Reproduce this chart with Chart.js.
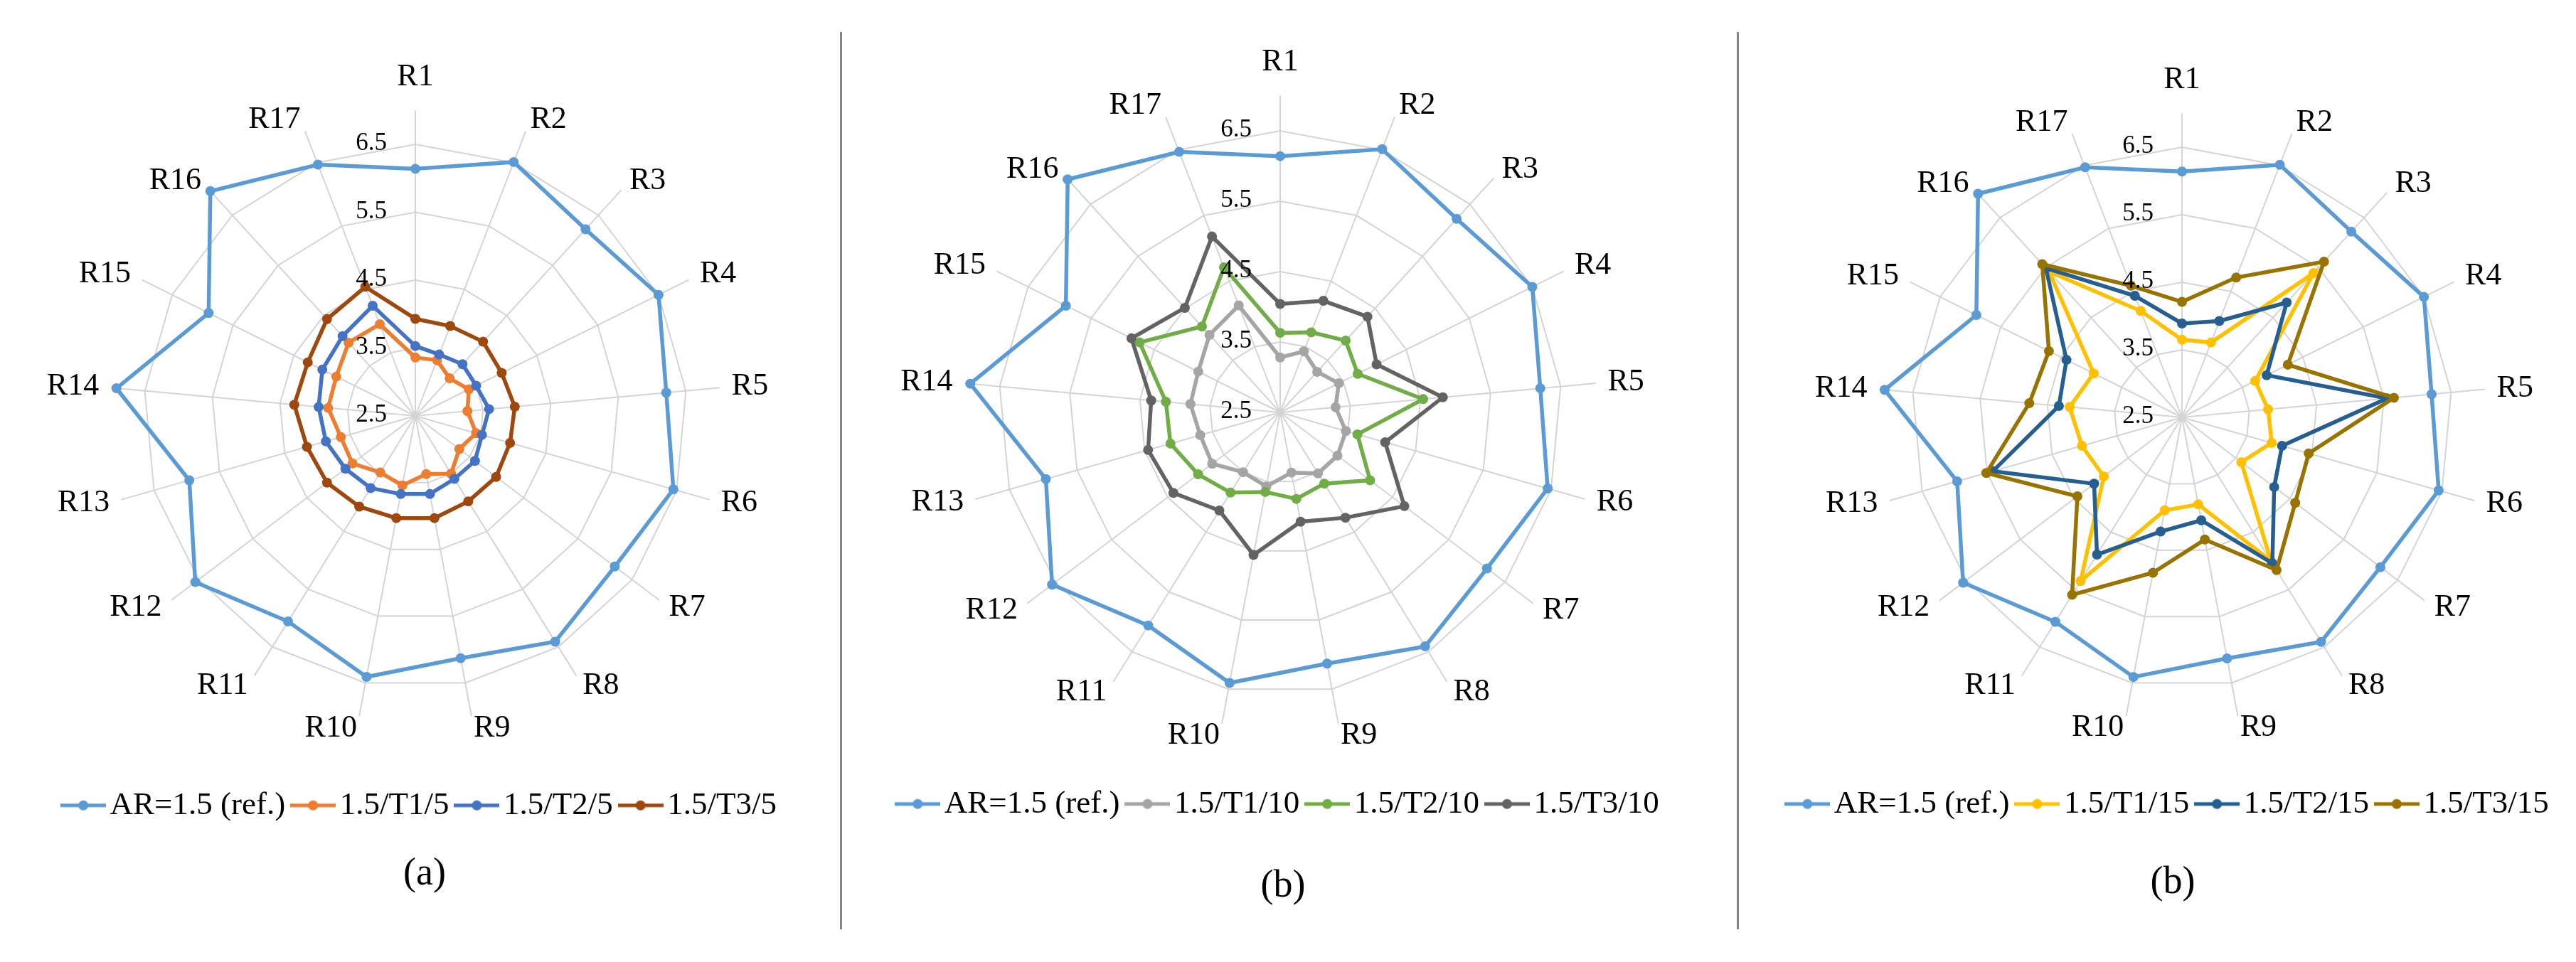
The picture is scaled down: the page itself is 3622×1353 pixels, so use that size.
<!DOCTYPE html>
<html>
<head>
<meta charset="utf-8">
<script src="https://cdn.jsdelivr.net/npm/chart.js@4.4.1/dist/chart.umd.min.js"></script>
<style>
html, body { margin: 0; padding: 0; background: #fff; width: 3622px; height: 1353px; overflow: hidden; }
canvas { position: absolute; top: 0; }
.sep { position: absolute; top: 45px; width: 3px; height: 1262px; background: #858585; }
</style>
</head>
<body>
<canvas id="chart_a" width="1180" height="1353" style="left:7px"></canvas>
<canvas id="chart_b" width="1180" height="1353" style="left:1214px"></canvas>
<canvas id="chart_c" width="1180" height="1353" style="left:2465px"></canvas>
<div class="sep" style="left:1181px"></div>
<div class="sep" style="left:2442px"></div>
<script>
var regions = ['R1', 'R2', 'R3', 'R4', 'R5', 'R6', 'R7', 'R8', 'R9', 'R10', 'R11', 'R12', 'R13', 'R14', 'R15', 'R16', 'R17'];
var tick_values = [2.5, 3.5, 4.5, 5.5, 6.5];
var axis_min = 2.5, axis_max = 7;

// reference case, same in all three panels
var ar_ref = [6.14, 6.51, 6.22, 6.50, 6.21, 6.45, 6.18, 6.41, 6.13, 6.41, 6.06, 6.56, 5.96, 6.92, 5.90, 6.98, 6.47];

// panel (a)
var t1_5 = [3.36, 3.38, 3.25, 3.38, 3.27, 3.43, 3.31, 3.50, 3.37, 3.54, 3.48, 3.66, 3.64, 3.79, 3.80, 3.96, 3.95];
var t2_5 = [3.53, 3.47, 3.53, 3.50, 3.59, 3.52, 3.60, 3.59, 3.67, 3.67, 3.75, 3.79, 3.87, 3.93, 4.03, 4.09, 4.24];
var t3_5 = [3.93, 3.92, 3.98, 3.92, 3.97, 3.95, 3.99, 3.98, 4.03, 4.03, 4.07, 4.13, 4.16, 4.29, 4.27, 4.43, 4.54];

// panel (b)
var t1_10 = [3.28, 3.43, 3.28, 3.43, 3.29, 3.47, 3.52, 3.52, 3.37, 3.57, 3.50, 3.71, 3.68, 3.78, 3.80, 3.99, 4.13];
var t2_10 = [3.63, 3.72, 3.88, 3.73, 4.54, 3.64, 4.10, 3.69, 3.75, 3.65, 3.84, 3.96, 4.12, 4.13, 4.73, 4.15, 4.71];
var t3_10 = [4.04, 4.20, 4.34, 4.03, 4.82, 4.05, 4.71, 4.26, 4.08, 4.56, 4.14, 4.40, 4.45, 4.34, 4.86, 4.51, 5.18];

// panel (c), labelled (b) in the figure
var t1_15 = [3.65, 3.69, 5.39, 3.71, 3.78, 3.88, 3.60, 5.00, 3.81, 3.90, 5.35, 3.95, 4.04, 4.17, 3.96, 5.42, 4.19];
var t2_15 = [3.89, 4.03, 4.80, 3.90, 5.55, 4.04, 4.21, 5.04, 4.05, 4.22, 4.89, 4.13, 5.41, 4.33, 4.41, 5.49, 4.43];
var t3_15 = [4.21, 4.72, 5.62, 4.25, 5.65, 4.45, 4.60, 5.16, 4.34, 4.84, 5.59, 4.44, 5.51, 4.77, 4.70, 5.57, 4.59];

var font_family = '"Liberation Serif", "Times New Roman", serif';
var text_colour = '#000000';
var grid_colour = '#d4d4d4';

// little line+dot picture used as legend symbol
function legendMark(colour) {
    var c = document.createElement('canvas');
    c.width = 64;
    c.height = 16;
    var g = c.getContext('2d');
    g.strokeStyle = colour;
    g.lineWidth = 5;
    g.beginPath();
    g.moveTo(0, 8);
    g.lineTo(64, 8);
    g.stroke();
    g.fillStyle = colour;
    g.beginPath();
    g.arc(32, 8, 7, 0, 2 * Math.PI);
    g.fill();
    return c;
}

function series(label, data, colour, order) {
    return {
        label: label,
        data: data,
        order: order,
        borderColor: colour,
        backgroundColor: colour,
        pointBackgroundColor: colour,
        pointBorderColor: colour,
        borderWidth: 5.5,
        pointRadius: 7,
        pointBorderWidth: 0,
        fill: false,
        clip: false
    };
}

// excel style labels: values left of the R1 spoke, names beside each spoke end
var excelLabels = {
    id: 'excelLabels',
    afterDatasetsDraw: function(chart, args, opts) {
        var s = chart.scales.r, ctx = chart.ctx;
        ctx.save();
        ctx.fillStyle = text_colour;
        ctx.font = '35px ' + font_family;
        ctx.textAlign = 'right';
        ctx.textBaseline = 'middle';
        for (var i = 0; i < tick_values.length; i++) {
            var d = s.getDistanceFromCenterForValue(tick_values[i]);
            ctx.fillText(tick_values[i].toFixed(1), s.xCenter - 40, s.yCenter - d - 1);
        }
        ctx.font = '44px ' + font_family;
        for (var j = 0; j < regions.length; j++) {
            var p = s.getPointPosition(j, s.drawingArea + 17);
            var a = s.getIndexAngle(j), sn = Math.sin(a);
            if (Math.abs(sn) < 0.05) {
                ctx.textAlign = 'center';
                ctx.fillText(regions[j], p.x, p.y + (Math.cos(a) > 0 ? -30 : 30));
            } else {
                ctx.textAlign = sn > 0 ? 'left' : 'right';
                ctx.fillText(regions[j], p.x, p.y);
            }
        }
        ctx.restore();
    }
};

function makePanel(id, cx, cy, unit, datasets, letter, pad_bottom, title_top) {
    var ctx = document.getElementById(id).getContext('2d');
    return new Chart(ctx, {
        type: 'radar',
        data: {labels: regions, datasets: datasets},
        plugins: [excelLabels],
        options: {
            responsive: false,
            animation: false,
            devicePixelRatio: 1,
            layout: {padding: {bottom: pad_bottom}},
            elements: {line: {tension: 0}},
            scales: {
                r: {
                    min: axis_min,
                    max: axis_max,
                    afterBuildTicks: function(scale) {
                        scale.ticks = tick_values.concat([axis_max]).map(function(v) { return {value: v}; });
                    },
                    afterFit: function(scale) {
                        scale.xCenter = cx;
                        scale.yCenter = cy;
                        scale.drawingArea = unit * (axis_max - axis_min);
                    },
                    ticks: {display: false},
                    pointLabels: {display: false},
                    grid: {
                        lineWidth: 2,
                        color: function(c) {
                            return (c.tick && c.tick.value === axis_max) ? 'rgba(0,0,0,0)' : grid_colour;
                        }
                    },
                    angleLines: {color: grid_colour, lineWidth: 2}
                }
            },
            plugins: {
                tooltip: {enabled: false},
                title: {
                    display: true,
                    position: 'bottom',
                    text: letter,
                    color: text_colour,
                    font: {family: font_family, size: 54, weight: 'normal'},
                    padding: {top: title_top, bottom: 0}
                },
                legend: {
                    position: 'bottom',
                    labels: {
                        usePointStyle: true,
                        pointStyleWidth: 30,
                        padding: 24,
                        color: text_colour,
                        font: {family: font_family, size: 45},
                        generateLabels: function(chart) {
                            return chart.data.datasets.map(function(ds, i) {
                                return {
                                    text: ds.label,
                                    pointStyle: legendMark(ds.borderColor),
                                    fillStyle: ds.borderColor,
                                    strokeStyle: ds.borderColor,
                                    fontColor: text_colour,
                                    lineWidth: 0,
                                    hidden: false,
                                    datasetIndex: i
                                };
                            });
                        }
                    }
                }
            }
        }
    });
}

var chart_a = makePanel('chart_a', 577, 585, 95.5, [
    series('AR=1.5 (ref.)', ar_ref, '#5B9BD5', 3),
    series('1.5/T1/5', t1_5, '#ED7D31', 2),
    series('1.5/T2/5', t2_5, '#4472C4', 1),
    series('1.5/T3/5', t3_5, '#9E480E', 0)
], '(a)', 91, 32);

var chart_b = makePanel('chart_b', 586, 580, 99, [
    series('AR=1.5 (ref.)', ar_ref, '#5B9BD5', 3),
    series('1.5/T1/10', t1_10, '#A5A5A5', 2),
    series('1.5/T2/10', t2_10, '#70AD47', 1),
    series('1.5/T3/10', t3_10, '#636363', 0)
], '(b)', 74, 51);

var chart_c = makePanel('chart_c', 603, 587, 95, [
    series('AR=1.5 (ref.)', ar_ref, '#5B9BD5', 3),
    series('1.5/T1/15', t1_15, '#FFC000', 2),
    series('1.5/T2/15', t2_15, '#255E91', 1),
    series('1.5/T3/15', t3_15, '#997300', 0)
], '(b)', 79, 46);
</script>
</body>
</html>
